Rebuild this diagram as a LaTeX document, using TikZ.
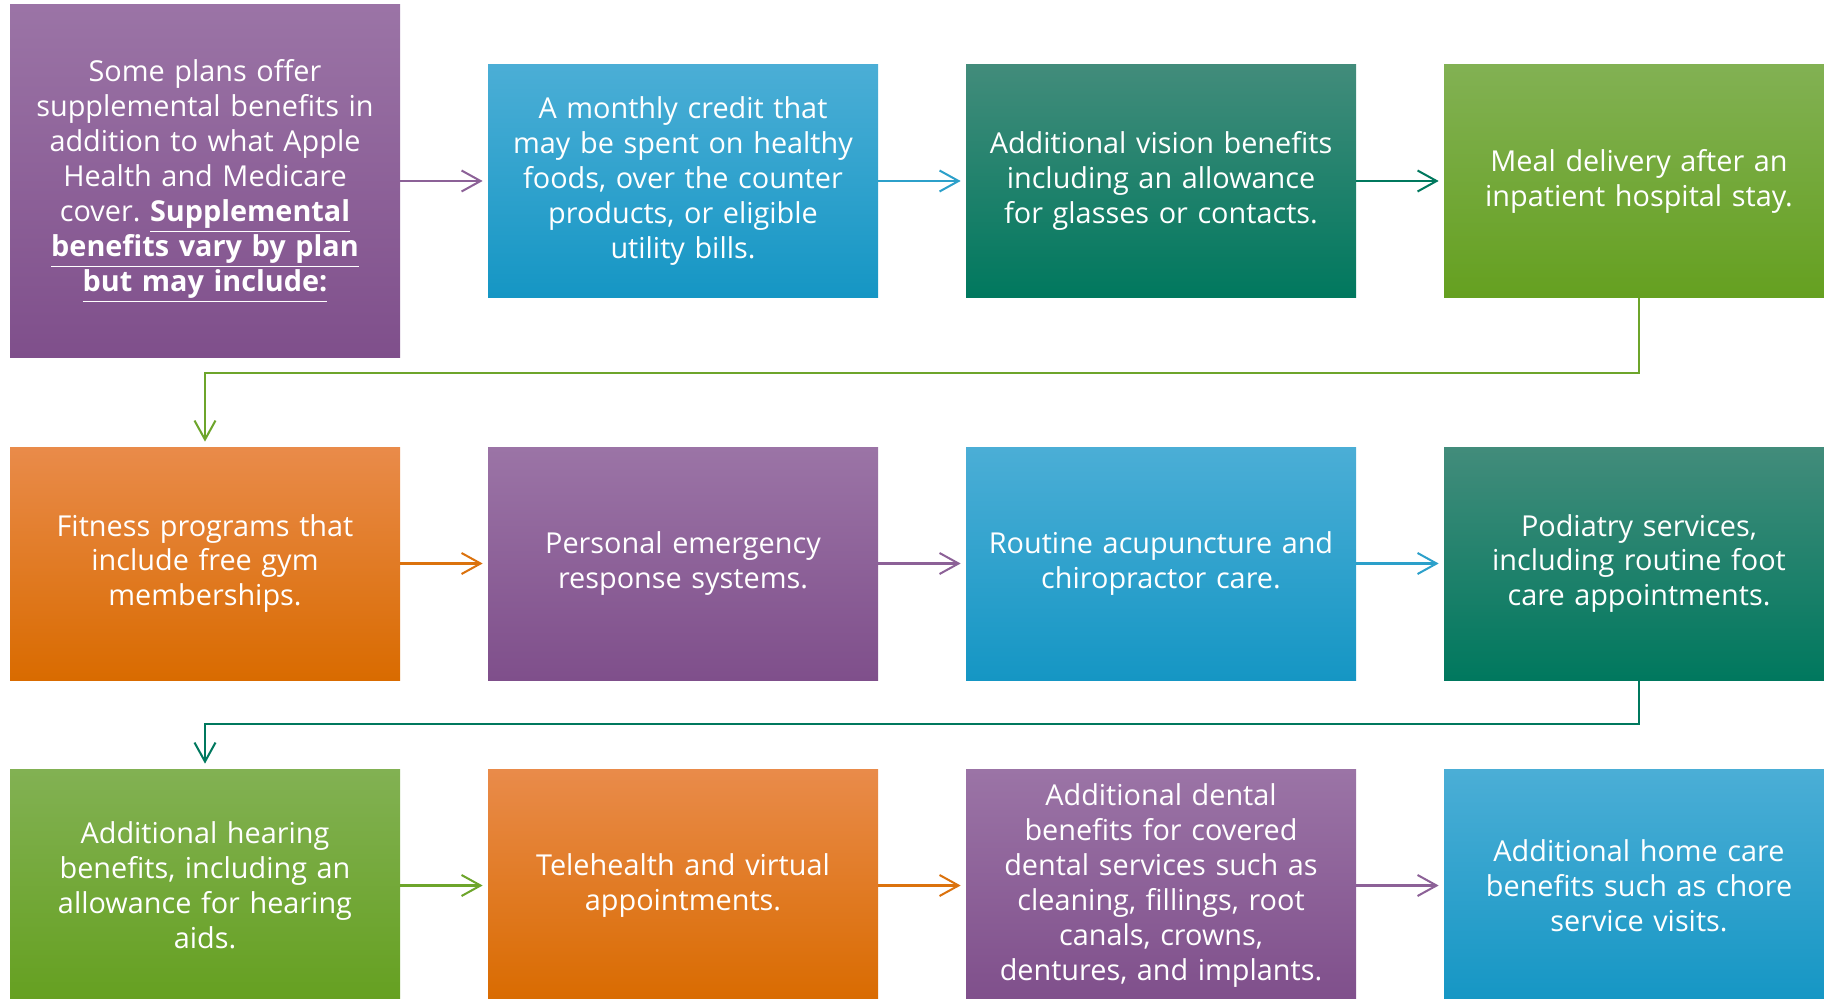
\documentclass[tikz,border=0pt]{standalone}
\usepackage{fontspec}
\setmainfont{Open Sans}
\usetikzlibrary{arrows.meta}
\frenchspacing

\definecolor{purpleA}{HTML}{9B74A6}
\definecolor{purpleB}{HTML}{7F4F8B}
\definecolor{blueA}{HTML}{4BAED6}
\definecolor{blueB}{HTML}{1596C4}
\definecolor{tealA}{HTML}{428C7B}
\definecolor{tealB}{HTML}{00785E}
\definecolor{greenA}{HTML}{82B153}
\definecolor{greenB}{HTML}{65A020}
\definecolor{orangeA}{HTML}{E98B4A}
\definecolor{orangeB}{HTML}{D96B00}

\begin{document}
\begin{tikzpicture}[
    node distance=9.56cm,
    box/.style={rectangle,minimum width=7.8cm,minimum height=4.66cm,text width=7.6cm,
      align=center,text=white,inner sep=0pt,font=\fontsize{16.4pt}{19.9pt}\selectfont},
    purplebox/.style={box,top color=purpleA,bottom color=purpleB},
    bluebox/.style={box,top color=blueA,bottom color=blueB},
    tealbox/.style={box,top color=tealA,bottom color=tealB},
    greenbox/.style={box,top color=greenA,bottom color=greenB},
    orangebox/.style={box,top color=orangeA,bottom color=orangeB},
    link/.style={line width=1.15pt,-{Straight Barb[length=0.38cm,width=0.42cm,line width=1.15pt]},shorten >=0.1cm}
  ]
    \useasboundingbox (0,0) rectangle (36.48,-19.98);

    \node [purplebox,minimum height=7.04cm] (1) at (4.1,-3.62) {Some plans offer\\supplemental benefits in\\addition to what Apple\\Health and Medicare\\cover. \underline{\textbf{Supplemental}}\\\underline{\textbf{benefits vary by plan}}\\\underline{\textbf{but may include:}}};
    \node [bluebox,right of=1] (2) {A monthly credit that\\may be spent on healthy\\foods, over the counter\\products, or eligible\\utility bills.};
    \node [tealbox,right of=2] (3) {Additional vision benefits\\including an allowance\\for glasses or contacts.};
    \node [greenbox,right of=3] (4) {Meal delivery after an\\inpatient hospital stay.};

    \node [orangebox,node distance=7.65cm,below of=1] (5) {Fitness programs that\\include free gym\\memberships.};
    \node [purplebox,right of=5] (6) {Personal emergency\\response systems.};
    \node [bluebox,right of=6] (7) {Routine acupuncture and\\chiropractor care.};
    \node [tealbox,right of=7] (8) {Podiatry services,\\including routine foot\\care appointments.};

    \node [greenbox,node distance=6.44cm,below of=5] (9) {Additional hearing\\benefits, including an\\allowance for hearing\\aids.};
    \node [orangebox,right of=9] (10) {Telehealth and virtual\\appointments.};
    \node [purplebox,right of=10] (11) {Additional dental\\benefits for covered\\dental services such as\\cleaning, fillings, root\\canals, crowns,\\dentures, and implants.};
    \node [bluebox,right of=11] (12) {Additional home care\\benefits such as chore\\service visits.};

    \draw[link,purpleB!90!white] (1) -- (2);
    \draw[link,blueB!90!white] (2) -- (3);
    \draw[link,tealB] (3) -- (4);
    \draw[link,greenB!95!white] (4.south) -- ++(0,-1.5) -| (5.north);
    \draw[link,orangeB!95!white] (5) -- (6);
    \draw[link,purpleB!90!white] (6) -- (7);
    \draw[link,blueB!90!white] (7) -- (8);
    \draw[link,tealB] (8.south) -- ++(0,-0.87) -| (9.north);
    \draw[link,greenB!95!white] (9) -- (10);
    \draw[link,orangeB!95!white] (10) -- (11);
    \draw[link,purpleB!90!white] (11) -- (12);

  \end{tikzpicture}
\end{document}
